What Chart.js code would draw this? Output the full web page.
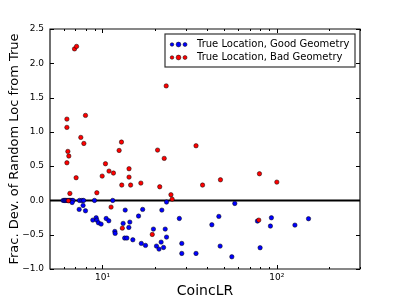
<!DOCTYPE html>
<html>
<head>
<meta charset="utf-8">
<script src="https://cdn.jsdelivr.net/npm/chart.js@4/dist/chart.umd.min.js"></script>
<style>
html,body{margin:0;padding:0;background:#fff;}
#wrap{width:400px;height:300px;position:relative;}
</style>
</head>
<body>
<div id="wrap"><canvas id="c" width="400" height="300"></canvas></div>
<script>
// ---- Data ----
const seriesNames = ["True Location, Good Geometry", "True Location, Bad Geometry"];

const goodX = [5.95,6.05,6.15,6.25,6.35,6.46,6.58,6.69,6.77,7.38,7.62,7.79,9.0,11.45,
  6.7,7.35,7.74,7.99,8.8,9.2,9.28,9.48,9.82,10.5,10.87,11.77,11.82,13.5,13.14,14.35,14.16,
  13.4,13.8,14.93,16.1,17.0,16.7,17.65,19.6,21.9,22.9,23.3,21.7,20.4,21.1,22.4,23.3,
  27.6,28.5,28.5,34.4,42.4,46.5,47.3,55.2,57.4,77.4,80.2,91.9,93.1,127,152];
const goodY = [0,0,0,0,0,0,0,0,0,0,0,0,0,0,
  -0.03,-0.131,-0.073,-0.151,-0.287,-0.253,-0.287,-0.326,-0.345,-0.263,-0.297,-0.452,-0.481,-0.141,-0.335,-0.316,-0.394,
  -0.549,-0.549,-0.574,-0.228,-0.131,-0.627,-0.656,-0.418,-0.141,-0.418,-0.535,-0.608,-0.666,-0.71,-0.686,-0.024,
  -0.263,-0.627,-0.773,-0.773,-0.355,-0.233,-0.666,-0.822,-0.044,-0.301,-0.69,-0.374,-0.253,-0.36,-0.267];

const badX = [6.91,7.10,23.2,6.25,6.25,7.99,7.51,7.82,6.33,6.41,6.25,12.85,12.46,20.7,22.6,34.4,
  10.4,9.96,10.9,11.56,14.2,14.2,12.9,14.5,16.6,21.3,7.06,6.50,9.28,24.7,25.1,37.5,47.5,79.5,100,
  11.2,13.0,19.3,78.8,6.37];
const badY = [2.21,2.246,1.67,1.186,1.065,1.24,0.919,0.831,0.715,0.647,0.549,0.851,0.729,0.734,0.613,0.797,
  0.535,0.355,0.428,0.399,0.462,0.34,0.224,0.224,0.253,0.199,0.331,0.102,0.112,0.083,0.019,0.224,0.301,0.389,0.267,
  -0.097,-0.404,-0.496,-0.287,-0.005];

const refLineX = [5, 300];
const refLineY = [0, 0];

const yTicks = [-1.0,-0.5,0.0,0.5,1.0,1.5,2.0,2.5];
const xMajorTicks = [10, 100];
const xMajorLabels = ["10\u00B9", "10\u00B2"];
const xMinorTicks = [6,7,8,9,20,30,40,50,60,70,80,90,200,300];

const xTitle = "CoincLR";
const yTitle = "Frac. Dev. of Random Loc from True";

// ---- Build ----
const pts = (xs, ys) => xs.map((x, i) => ({x: x, y: ys[i]}));
const FONT = "'DejaVu Sans', sans-serif";

const framePlugin = {
  id: 'frame',
  afterDraw(chart) {
    const ctx = chart.ctx;
    const a = chart.chartArea;
    const xs = chart.scales.x, ys = chart.scales.y;
    ctx.save();
    ctx.setLineDash([]);
    const l = Math.round(a.left), r = Math.round(a.right), t = Math.round(a.top), b = Math.round(a.bottom);
    // frame: stroked on integer coordinates so it spreads over two pixels (soft spine)
    ctx.lineWidth = 1.2;
    ctx.strokeStyle = '#111';
    ctx.beginPath();
    ctx.moveTo(l, t); ctx.lineTo(r, t); ctx.lineTo(r, b); ctx.lineTo(l, b); ctx.closePath();
    ctx.stroke();
    // ticks
    ctx.lineWidth = 1;
    ctx.strokeStyle = '#000';
    ctx.beginPath();
    yTicks.forEach(v => {
      const p = Math.round(ys.getPixelForValue(v)) + 0.5;
      ctx.moveTo(l, p); ctx.lineTo(l + 4, p);
      ctx.moveTo(r, p); ctx.lineTo(r - 4, p);
    });
    xMajorTicks.forEach(v => {
      const p = Math.round(xs.getPixelForValue(v)) + 0.5;
      ctx.moveTo(p, b); ctx.lineTo(p, b - 4);
      ctx.moveTo(p, t); ctx.lineTo(p, t + 4);
    });
    xMinorTicks.forEach(v => {
      const p = Math.round(xs.getPixelForValue(v)) + 0.5;
      ctx.moveTo(p, b); ctx.lineTo(p, b - 2);
      ctx.moveTo(p, t); ctx.lineTo(p, t + 2);
    });
    ctx.stroke();

    // legend
    const lx = 165, ly = 34, lw = 190, lh = 33;
    ctx.fillStyle = '#fff';
    ctx.fillRect(lx, ly, lw, lh);
    ctx.lineWidth = 1.2;
    ctx.strokeStyle = '#333';
    ctx.strokeRect(lx, ly, lw, lh);
    const ds = [chart.data.datasets[1], chart.data.datasets[2]];
    const rows = [44.5, 57.5];
    const dotX = [172, 178.5, 185];
    const dotR = [1.8, 2.4, 2.0];
    ds.forEach((d, i) => {
      dotX.forEach((dx, j) => {
        ctx.beginPath();
        ctx.arc(dx, rows[i], dotR[j], 0, Math.PI * 2);
        ctx.fillStyle = d.backgroundColor;
        ctx.fill();
        ctx.lineWidth = 0.5;
        ctx.strokeStyle = '#000';
        ctx.stroke();
      });
      ctx.fillStyle = '#000';
      ctx.font = "10px " + FONT;
      ctx.textBaseline = 'middle';
      ctx.textAlign = 'left';
      ctx.fillText(seriesNames[i], 197, rows[i]);
    });
    ctx.restore();
  }
};

new Chart(document.getElementById('c'), {
  type: 'scatter',
  data: {
    datasets: [
      {
        type: 'line',
        label: 'zero',
        data: pts(refLineX, refLineY),
        borderColor: '#000',
        borderWidth: 2,
        pointRadius: 0,
        order: 3
      },
      {
        label: seriesNames[0],
        data: pts(goodX, goodY),
        backgroundColor: '#0000ff',
        borderColor: '#000',
        borderWidth: 0.5,
        pointRadius: 2.2,
        order: 2
      },
      {
        label: seriesNames[1],
        data: pts(badX, badY),
        backgroundColor: '#ff0000',
        borderColor: '#000',
        borderWidth: 0.5,
        pointRadius: 2.2,
        order: 1
      }
    ]
  },
  options: {
    responsive: false,
    animation: false,
    devicePixelRatio: 1,
    layout: { padding: { top: 29, right: 40, left: 0, bottom: 0 } },
    plugins: { legend: { display: false }, tooltip: { enabled: false } },
    scales: {
      x: {
        type: 'logarithmic',
        min: 5, max: 300,
        grid: { display: false, drawTicks: false },
        border: { display: false },
        afterBuildTicks: s => { s.ticks = xMajorTicks.map(v => ({value: v})); },
        afterFit: s => { s.height = 31; },
        ticks: {
          autoSkip: false, maxRotation: 0, padding: 3, color: '#000',
          font: { family: FONT, size: 9 },
          callback: v => { const i = xMajorTicks.indexOf(v); return i >= 0 ? xMajorLabels[i] : ''; }
        },
        title: {
          display: true, text: xTitle, color: '#000',
          font: { family: FONT, size: 14 },
          padding: { top: 0, bottom: 0 }
        }
      },
      y: {
        min: -1, max: 2.5,
        grid: { display: false, drawTicks: false },
        border: { display: false },
        afterBuildTicks: s => { s.ticks = yTicks.map(v => ({value: v})); },
        afterFit: s => { s.width = 50; },
        ticks: {
          padding: 6, color: '#000',
          font: { family: FONT, size: 9 },
          callback: v => (v < 0 ? '\u2212' : '') + Math.abs(v).toFixed(1)
        },
        title: {
          display: true, text: yTitle, color: '#000',
          font: { family: FONT, size: 13 },
          padding: { top: 7, bottom: 0 }
        }
      }
    }
  },
  plugins: [framePlugin]
});
</script>
</body>
</html>
